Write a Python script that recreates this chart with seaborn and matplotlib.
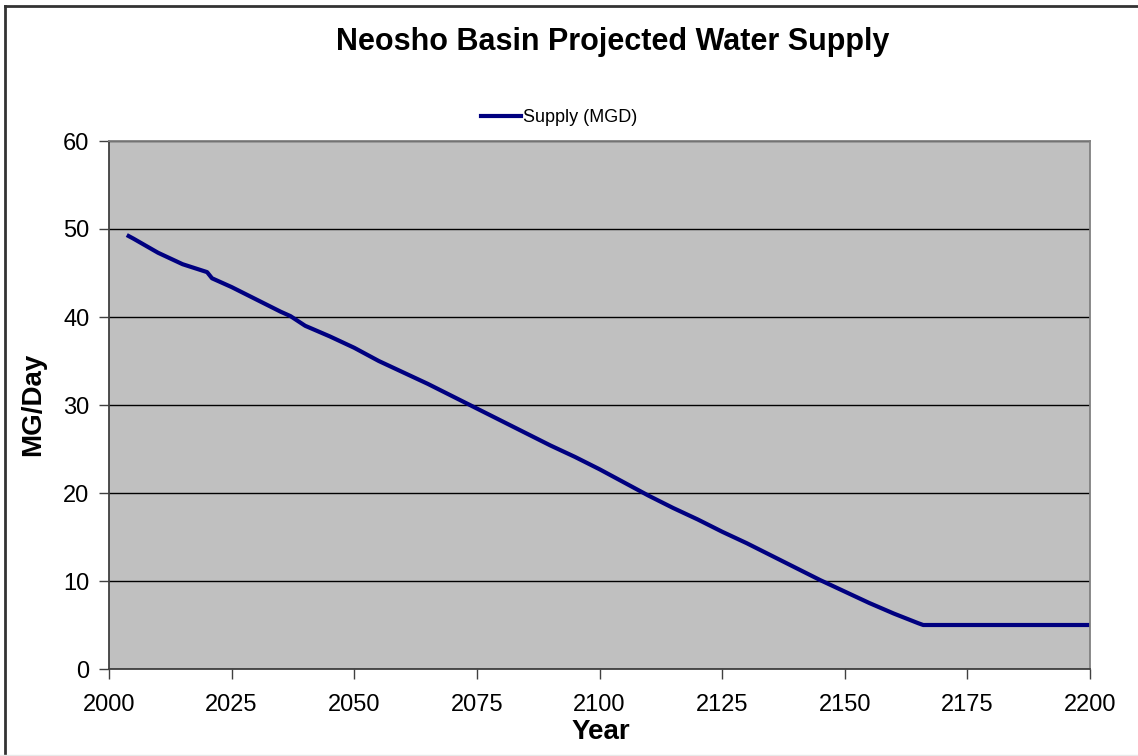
import matplotlib
matplotlib.use("Agg")
import matplotlib.pyplot as plt
from matplotlib.lines import Line2D
import pandas as pd
import seaborn as sns

# Projected supply, million gallons per day
years = [2004, 2005, 2010, 2015, 2020, 2021, 2025, 2030, 2035, 2037, 2040,
         2045, 2050, 2055, 2060, 2065, 2070, 2075, 2080, 2085, 2090, 2095,
         2100, 2105, 2110, 2115, 2120, 2125, 2130, 2135, 2140, 2145, 2150,
         2155, 2160, 2165, 2166, 2170, 2175, 2180, 2185, 2190, 2195, 2200]
supply = [49.2, 48.9, 47.3, 46.0, 45.1, 44.4, 43.4, 42.0, 40.6, 40.1, 39.0,
          37.8, 36.5, 35.0, 33.7, 32.4, 31.0, 29.6, 28.2, 26.8, 25.4, 24.1,
          22.7, 21.2, 19.7, 18.3, 17.0, 15.6, 14.3, 12.9, 11.5, 10.1, 8.8,
          7.5, 6.3, 5.2, 5.0, 5.0, 5.0, 5.0, 5.0, 5.0, 5.0, 5.0]
x_ticks = [2000, 2025, 2050, 2075, 2100, 2125, 2150, 2175, 2200]
y_ticks = [0, 10, 20, 30, 40, 50, 60]
series_name = "Supply (MGD)"

df = pd.DataFrame({"Year": years, "Supply": supply})

plt.rcParams["font.family"] = ["Liberation Sans", "DejaVu Sans"]

W, H = 1138, 756
fig = plt.figure(figsize=(W / 100, H / 100), dpi=100)
ax = fig.add_axes([109 / W, 1 - 669 / H, (1090 - 109) / W, (669 - 141) / H])
ax.set_facecolor("#C0C0C0")

sns.lineplot(data=df, x="Year", y="Supply", ax=ax, color="#000080",
             linewidth=3, label=series_name, legend=False)

ax.set_xlim(2000, 2200)
ax.set_ylim(0, 60)
ax.set_xticks(x_ticks)
ax.set_yticks(y_ticks)
ax.tick_params(axis="both", labelsize=17, direction="out", length=7,
               width=1, color="#404040")
ax.tick_params(axis="x", pad=11)
ax.tick_params(axis="y", pad=7)
ax.yaxis.grid(True, color="black", linewidth=1)
ax.xaxis.grid(False)
ax.set_axisbelow(True)

for side in ("left", "bottom"):
    ax.spines[side].set_color("#404040")
    ax.spines[side].set_linewidth(1.3)
for side in ("top", "right"):
    ax.spines[side].set_color("#808080")
    ax.spines[side].set_linewidth(1.3)

ax.set_xlabel("")
ax.set_ylabel("")
fig.text(601 / W, 1 - 732 / H, "Year", fontsize=20, fontweight="bold",
         ha="center", va="center")
fig.text(33 / W, 1 - 404 / H, "MG/Day", fontsize=20, fontweight="bold",
         ha="center", va="center", rotation=90)
fig.text(613 / W, 1 - 42 / H, "Neosho Basin Projected Water Supply",
         fontsize=22, fontweight="bold", ha="center", va="center")

handles = [Line2D([0], [0], color="#000080", linewidth=3)]
fig.legend(handles, [series_name], loc="center",
           bbox_to_anchor=(559 / W, 1 - 118 / H), frameon=False,
           fontsize=13, handlelength=2.2, handletextpad=0.1)

# Chart frame
fig.add_artist(Line2D([5 / W, 5 / W], [0, 1 - 6 / H], color="#333333",
                      linewidth=2, transform=fig.transFigure))
fig.add_artist(Line2D([5 / W, 1], [1 - 6 / H, 1 - 6 / H], color="#333333",
                      linewidth=2, transform=fig.transFigure))
fig.add_artist(Line2D([0, 1], [1 - 755 / H, 1 - 755 / H], color="#E8E8E8",
                      linewidth=1, transform=fig.transFigure))

fig.savefig("out.png", dpi=100, facecolor="white")
